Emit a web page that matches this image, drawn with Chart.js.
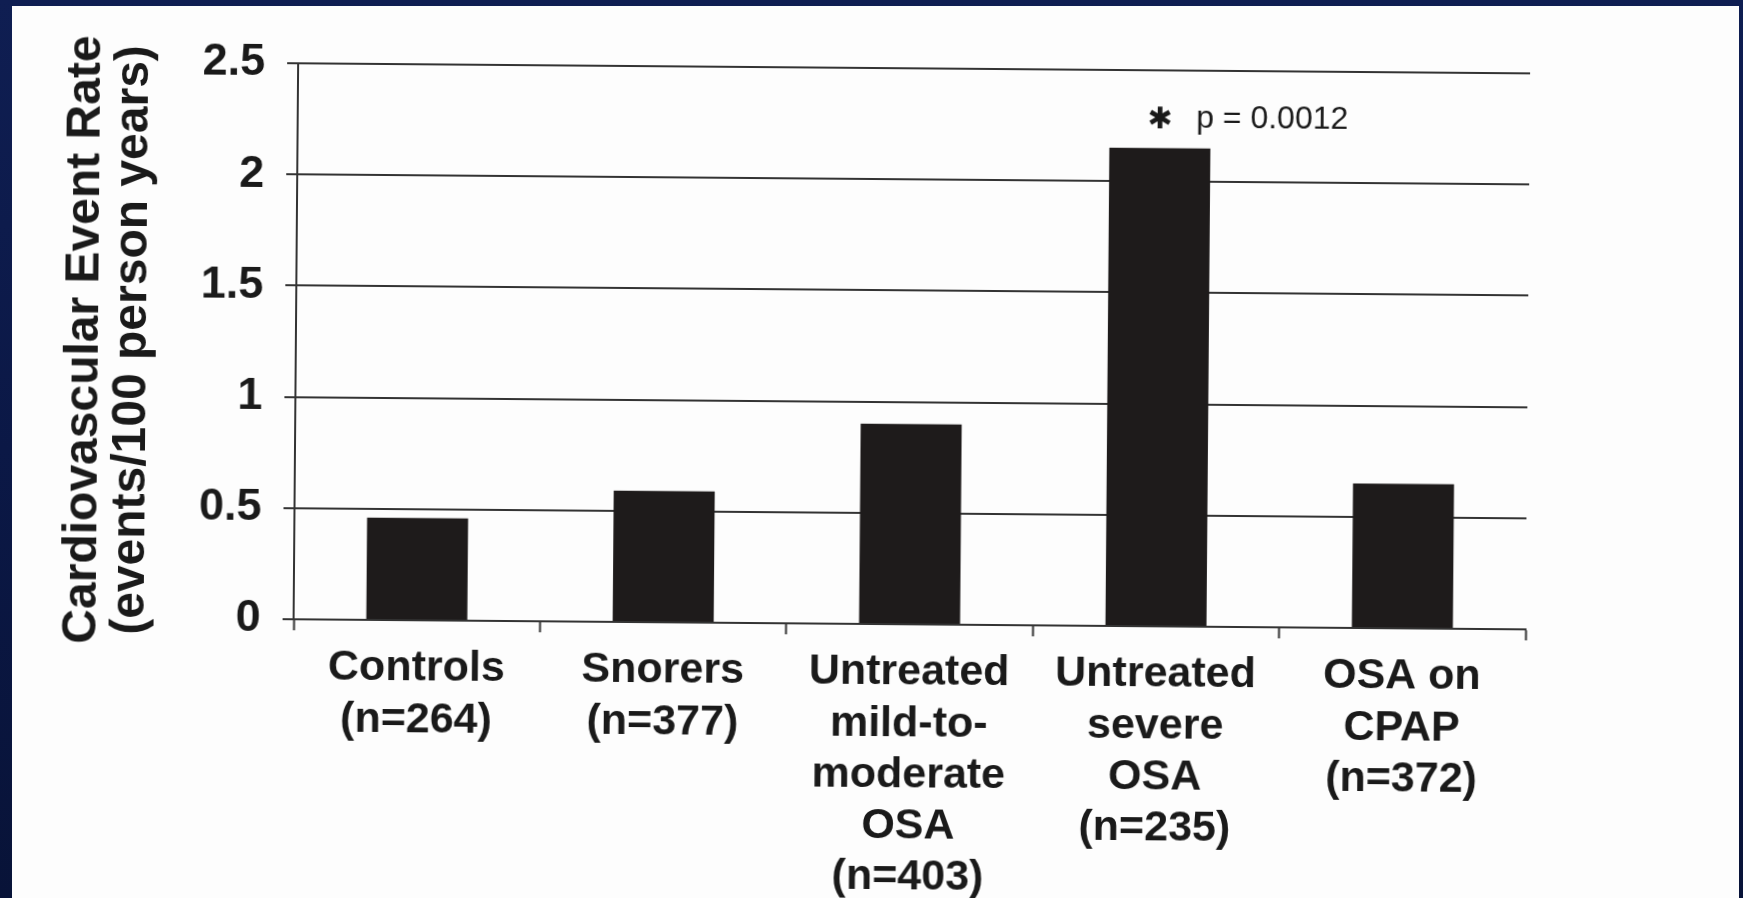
<!DOCTYPE html>
<html>
<head>
<meta charset="utf-8">
<title>Cardiovascular Event Rate</title>
<script src="https://cdn.jsdelivr.net/npm/chart.js@4.4.1/dist/chart.umd.min.js"></script>
<style>
  html,body{margin:0;padding:0;}
  body{width:1743px;height:898px;overflow:hidden;position:relative;
       background:linear-gradient(180deg,#0f1e52 0%,#0b1846 50%,#081338 100%);}
  .sheet{position:absolute;left:12px;top:6px;width:1727px;height:892px;background:#fdfdfd;}
  #chart{position:absolute;left:0;top:0;transform:rotate(0.47deg);transform-origin:50% 50%;}
</style>
</head>
<body>
<div class="sheet"></div>
<canvas id="chart" width="1743" height="898"></canvas>
<script>
/* Cardiovascular event rate by group (bar chart) */
const groups = [
  ['Controls', '(n=264)'],
  ['Snorers', '(n=377)'],
  ['Untreated', 'mild-to-', 'moderate', 'OSA', '(n=403)'],
  ['Untreated', 'severe', 'OSA', '(n=235)'],
  ['OSA on', 'CPAP', '(n=372)']
];
const eventRates = [0.46, 0.59, 0.90, 2.15, 0.65];
const yTicks = [0, 0.5, 1, 1.5, 2, 2.5];
const yTitle = ['Cardiovascular Event Rate', '(events/100 person years)'];
const sigMark = '\u2731';
const sigText = 'p = 0.0012';
const sigIndex = 3;

const ink = '#1a1a1a';
const font = '"Liberation Sans", Arial, Helvetica, sans-serif';

// star + p-value above the severe OSA bar
const sigLabel = {
  id: 'sigLabel',
  afterDatasetsDraw(chart){
    const bar = chart.getDatasetMeta(0).data[sigIndex];
    if(!bar) return;
    const c = chart.ctx;
    c.save();
    c.fillStyle = ink;
    c.textBaseline = 'middle';
    c.textAlign = 'center';
    c.font = '30px "DejaVu Sans", sans-serif';
    c.fillText(sigMark, bar.x, bar.y - 28);
    c.textAlign = 'left';
    c.font = '32px ' + font;
    c.fillText(sigText, bar.x + 36, bar.y - 30);
    c.restore();
  }
};

new Chart(document.getElementById('chart'), {
  type: 'bar',
  data: {
    labels: groups,
    datasets: [{
      data: eventRates,
      backgroundColor: '#1e1b1b',
      borderWidth: 0,
      barPercentage: 0.41,
      categoryPercentage: 1
    }]
  },
  options: {
    responsive: false,
    animation: false,
    layout: { padding: { left: 60, top: 68, right: 216, bottom: 0 } },
    plugins: { legend: { display: false }, tooltip: { enabled: false } },
    scales: {
      x: {
        offset: true,
        grid: { offset: true, drawOnChartArea: false, drawTicks: true, tickLength: 11, tickWidth: 2, tickColor: '#333' },
        border: { display: true, color: '#333', width: 2 },
        ticks: { color: ink, padding: 12, maxRotation: 0, autoSkip: false,
                 font: { family: font, size: 43, weight: 'bold', lineHeight: 1.19 } },
        afterFit(s){ s.height = 274; }
      },
      y: {
        min: 0, max: 2.5,
        afterBuildTicks(s){ s.ticks = yTicks.map(v => ({ value: v })); },
        grid: { color: '#333', lineWidth: 2, drawTicks: true, tickLength: 11 },
        border: { display: true, color: '#333', width: 2 },
        ticks: { color: ink, padding: 22, callback: v => String(v),
                 font: { family: font, size: 45, weight: 'bold' } },
        title: { display: true, text: yTitle, color: ink, padding: 0,
                 font: { family: font, size: 48, weight: 'bold', lineHeight: 1.0 } },
        afterFit(s){ s.width = 235; }
      }
    }
  },
  plugins: [sigLabel]
});
</script>
</body>
</html>
